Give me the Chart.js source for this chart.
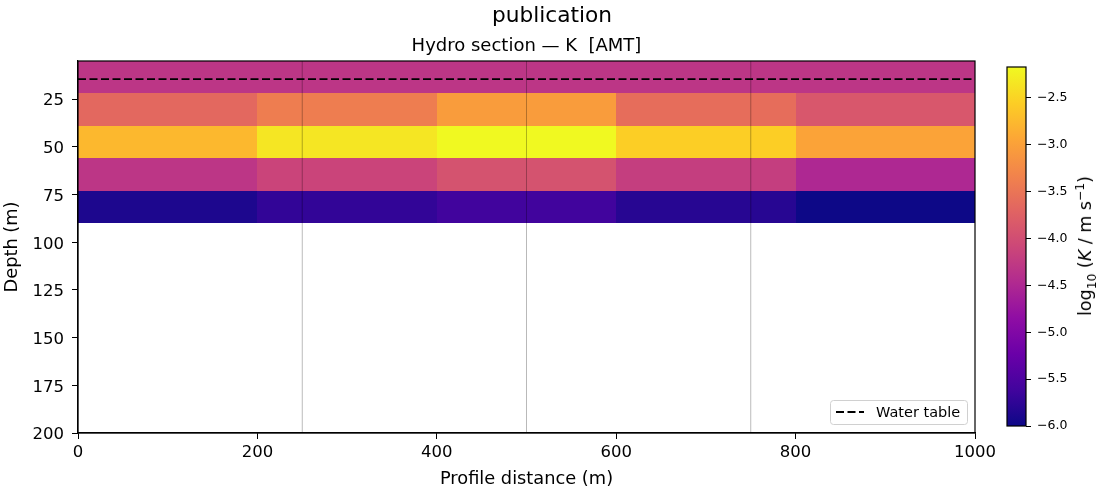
<!DOCTYPE html>
<html>
<head>
<meta charset="utf-8">
<script src="https://cdn.jsdelivr.net/npm/chart.js@4.4.1/dist/chart.umd.min.js"></script>
<style>
  html, body { margin: 0; padding: 0; background: #fff; }
  #fig { position: relative; width: 1105px; height: 494px; font-family: "DejaVu Sans", sans-serif; color: #000; }
  #main { position: absolute; left: 0; top: 0; width: 1105px; height: 494px; }
  #cbar { position: absolute; left: 990px; top: 0; width: 80px; height: 494px; }
  .txt { position: absolute; white-space: nowrap; transform: translate(-50%, -50%); }
  #suptitle { left: 552px; top: 14px; font-size: 21.7px; }
  #subtitle { left: 526.5px; top: 44px; font-size: 18px; }
  #cblabel { left: 1085px; top: 246px; font-size: 17.5px; transform: translate(-50%, -50%) rotate(-90deg); }
  #cblabel sub, #cblabel sup { font-size: 70%; line-height: 0; }
</style>
</head>
<body>
<div id="fig">
  <canvas id="main" width="1105" height="494"></canvas>
  <canvas id="cbar" width="80" height="494"></canvas>
  <div class="txt" id="suptitle">publication</div>
  <div class="txt" id="subtitle">Hydro section — K&nbsp; [AMT]</div>
  <div class="txt" id="cblabel">log<sub>10</sub> (<i>K</i> / m s<sup>−1</sup>)</div>
</div>
<script>
// section cells: column edges along profile, layer edges in depth
var xEdges = [0, 200, 400, 600, 800, 1000];
var depthEdges = [5, 22, 39, 56, 73, 90];
// log10 K per layer (rows, top to bottom) and column
var logK = [
    [-4.31, -4.31, -4.31, -4.31, -4.31],
    [-3.66, -3.40, -3.05, -3.59, -3.87],
    [-2.76, -2.34, -2.17, -2.55, -2.97],
    [-4.31, -4.12, -3.93, -4.20, -4.50],
    [-5.88, -5.73, -5.62, -5.81, -6.00]
];
var waterTable = 14.5;
var stations = [250, 500, 750];
var xTicks = [0, 200, 400, 600, 800, 1000];
var yTicks = [25, 50, 75, 100, 125, 150, 175, 200];
var cbTicks = [-6.0, -5.5, -5.0, -4.5, -4.0, -3.5, -3.0, -2.5];

var allK = [].concat.apply([], logK);
var vmin = Math.min.apply(null, allK);
var vmax = Math.max.apply(null, allK);

// plasma colormap stops
var plasmaStops = [
    [13, 8, 135], [65, 4, 157], [106, 0, 168], [143, 13, 164], [177, 42, 144],
    [204, 71, 120], [225, 100, 98], [242, 132, 75], [252, 166, 54], [252, 206, 37], [240, 249, 33]
];
function plasma(t) {
    t = Math.max(0, Math.min(1, t));
    var p = t * (plasmaStops.length - 1);
    var i = Math.min(Math.floor(p), plasmaStops.length - 2);
    var f = p - i;
    var a = plasmaStops[i], b = plasmaStops[i + 1];
    return "rgb(" + Math.round(a[0] + (b[0] - a[0]) * f) + "," +
        Math.round(a[1] + (b[1] - a[1]) * f) + "," +
        Math.round(a[2] + (b[2] - a[2]) * f) + ")";
}

var font = "'DejaVu Sans', sans-serif";

var cellPlugin = {
    id: "cells",
    beforeDatasetsDraw: function(chart) {
        var ctx = chart.ctx, area = chart.chartArea;
        var xs = chart.scales.x, ys = chart.scales.y;
        ctx.save();
        ctx.beginPath();
        ctx.rect(area.left, area.top, area.right - area.left, area.bottom - area.top);
        ctx.clip();
        for (var i = 0; i < logK.length; i++) {
            for (var j = 0; j < logK[i].length; j++) {
                var x0 = Math.round(xs.getPixelForValue(xEdges[j]));
                var x1 = Math.round(xs.getPixelForValue(xEdges[j + 1]));
                var y0 = Math.round(ys.getPixelForValue(depthEdges[i]));
                var y1 = Math.round(ys.getPixelForValue(depthEdges[i + 1]));
                ctx.fillStyle = plasma((logK[i][j] - vmin) / (vmax - vmin));
                ctx.fillRect(Math.min(x0, x1), Math.min(y0, y1), Math.abs(x1 - x0), Math.abs(y1 - y0));
            }
        }
        ctx.restore();
    }
};

var framePlugin = {
    id: "frame",
    afterDraw: function(chart) {
        var ctx = chart.ctx, a = chart.chartArea;
        ctx.save();
        ctx.strokeStyle = "#000";
        ctx.lineWidth = 1.2;
        ctx.strokeRect(a.left, a.top, a.right - a.left, a.bottom - a.top);
        ctx.restore();
    }
};

// legend box in the lower right corner of the axes
var legendPlugin = {
    id: "boxLegend",
    afterDraw: function(chart) {
        var ctx = chart.ctx, a = chart.chartArea;
        var ds = chart.data.datasets.filter(function(d) { return d.label; })[0];
        var w = 137, h = 24;
        var bx = a.right - 8 - w, by = a.bottom - 9 - h;
        ctx.save();
        ctx.fillStyle = "rgba(255,255,255,0.8)";
        ctx.strokeStyle = "#d0d0d0";
        ctx.lineWidth = 1;
        ctx.beginPath();
        ctx.roundRect(bx + 0.5, by + 0.5, w, h, 3);
        ctx.fill();
        ctx.stroke();
        ctx.strokeStyle = ds.borderColor;
        ctx.lineWidth = ds.borderWidth;
        ctx.setLineDash(ds.borderDash);
        ctx.beginPath();
        ctx.moveTo(bx + 6, by + h / 2);
        ctx.lineTo(bx + 34, by + h / 2);
        ctx.stroke();
        ctx.setLineDash([]);
        ctx.fillStyle = "#000";
        ctx.font = "14.5px " + font;
        ctx.textBaseline = "middle";
        ctx.fillText(ds.label, bx + 46, by + h / 2 + 1);
        ctx.restore();
    }
};

var datasets = stations.map(function(s) {
    return {
        data: [{x: s, y: depthEdges[0]}, {x: s, y: 200}],
        borderColor: "rgba(0,0,0,0.1)",
        borderWidth: 1,
        pointRadius: 0
    };
});
datasets.push({
    label: "Water table",
    data: [{x: xEdges[0], y: waterTable}, {x: xEdges[xEdges.length - 1], y: waterTable}],
    borderColor: "#000",
    borderWidth: 1.8,
    borderDash: [8, 3.5],
    pointRadius: 0
});

function fixedTicks(arr) {
    return function(scale) {
        scale.ticks = arr.map(function(v) { return {value: v}; });
    };
}

new Chart(document.getElementById("main"), {
    type: "line",
    data: {datasets: datasets},
    options: {
        responsive: false,
        maintainAspectRatio: false,
        animation: false,
        events: [],
        layout: {padding: {top: 61, right: 130, left: 0, bottom: 0}},
        plugins: {legend: {display: false}, tooltip: {enabled: false}},
        scales: {
            x: {
                type: "linear",
                min: 0, max: 1000,
                afterBuildTicks: fixedTicks(xTicks),
                afterFit: function(s) { s.height = 61; },
                grid: {drawOnChartArea: false, drawTicks: true, tickLength: 6, tickColor: "#000"},
                border: {display: true, color: "#000", width: 1.2},
                ticks: {color: "#000", padding: 4, maxRotation: 0, font: {family: font, size: 16.5},
                        callback: function(v) { return String(v); }},
                title: {display: true, text: "Profile distance (m)", color: "#000",
                        padding: {top: 0, bottom: 4}, font: {family: font, size: 17.8}}
            },
            y: {
                type: "linear",
                reverse: true,
                min: depthEdges[0], max: 200,
                afterBuildTicks: fixedTicks(yTicks),
                afterFit: function(s) { s.width = 78; },
                grid: {drawOnChartArea: false, drawTicks: true, tickLength: 6, tickColor: "#000"},
                border: {display: true, color: "#000", width: 1.2},
                ticks: {color: "#000", padding: 8, labelOffset: 2, font: {family: font, size: 16.5}},
                title: {display: true, text: "Depth (m)", color: "#000",
                        padding: {top: 2, bottom: 2}, font: {family: font, size: 17.8}}
            }
        }
    },
    plugins: [cellPlugin, framePlugin, legendPlugin]
});

// colour bar as a single floating bar filled with the colormap
new Chart(document.getElementById("cbar"), {
    type: "bar",
    data: {
        labels: ["K"],
        datasets: [{
            data: [[vmin, vmax]],
            barPercentage: 1,
            categoryPercentage: 1,
            borderWidth: 0,
            backgroundColor: function(c) {
                var area = c.chart.chartArea;
                if (!area) return "#000";
                var g = c.chart.ctx.createLinearGradient(0, area.bottom, 0, area.top);
                for (var k = 0; k < plasmaStops.length; k++) {
                    var t = k / (plasmaStops.length - 1);
                    g.addColorStop(t, plasma(t));
                }
                return g;
            }
        }]
    },
    options: {
        responsive: false,
        maintainAspectRatio: false,
        animation: false,
        events: [],
        layout: {padding: {top: 67, bottom: 68, left: 17, right: 0}},
        plugins: {legend: {display: false}, tooltip: {enabled: false}},
        scales: {
            x: {display: false},
            y: {
                position: "right",
                min: vmin, max: vmax,
                afterBuildTicks: fixedTicks(cbTicks),
                afterFit: function(s) { s.width = 80 - 17 - 19; },
                grid: {drawOnChartArea: false, drawTicks: true, tickLength: 5, tickColor: "#000"},
                border: {display: false},
                ticks: {
                    color: "#000", padding: 6, font: {family: font, size: 12.5},
                    callback: function(v) { return v.toFixed(1).replace("-", "\u2212"); }
                }
            }
        }
    },
    plugins: [framePlugin]
});
</script>
</body>
</html>
